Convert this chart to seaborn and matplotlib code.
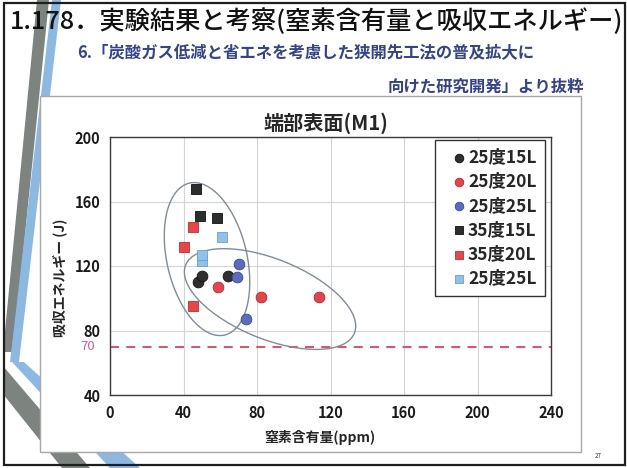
import matplotlib
matplotlib.use("Agg")
import matplotlib.pyplot as plt
import seaborn as sns
from matplotlib import transforms
from matplotlib.patches import Ellipse, Polygon, Rectangle
from matplotlib.font_manager import FontProperties

# ---- data -------------------------------------------------------------
series_labels = ["25度15L", "25度20L", "25度25L", "35度15L", "35度20L", "25度25L"]
nitrogen_ppm = [
    [48, 50, 64],      # 25度15L
    [59, 82, 114],     # 25度20L
    [69, 70, 74],      # 25度25L
    [47, 49, 58],      # 35度15L
    [40, 45, 45],      # 35度20L
    [50, 50, 61],      # 25度25L (squares)
]
absorbed_energy = [
    [110, 114, 114],
    [107, 101, 101],
    [113, 121, 87],
    [168, 151, 150],
    [132, 144, 95],
    [123, 127, 138],
]
threshold_energy = 70
x_ticks = [0, 40, 80, 120, 160, 200, 240]
y_ticks = [40, 80, 120, 160, 200]

# ---- styles -----------------------------------------------------------
markers = ["o", "o", "o", "s", "s", "s"]
colors = ["#2f2f2f", "#e8434a", "#5a6cc0", "#2b2f2b", "#ea4446", "#8cc2ec"]
edges = ["#111111", "#b02a30", "#3a4a90", "#111111", "#b83030", "#6aa0cc"]

sns.set_style("white")
CJK = ["Noto Sans CJK JP", "DejaVu Sans"]
LABEL_FONT = ["Noto Sans CJK JP", "DejaVu Sans"]
plt.rcParams["font.family"] = CJK

W, H = 627, 468
fig = plt.figure(figsize=(W / 100, H / 100), dpi=100)
fig.patch.set_facecolor("white")


def P(x, y):
    return (x / W, 1 - y / H)


# slide decoration: slanted grey/blue bands on the left
bands = [
    ([(37, 0), (49, 0), (13, 352), (3, 352)], "#7d837f"),
    ([(52, 0), (61, 0), (19, 362), (10, 362)], "#8bb9e2"),
    ([(3, 366), (3, 394), (62, 468), (90, 468)], "#7d837f"),
    ([(12, 362), (24, 362), (140, 468), (110, 468)], "#8bb9e2"),
]
for pts, col in bands:
    fig.patches.append(Polygon([P(*p) for p in pts], closed=True,
                               transform=fig.transFigure, facecolor=col,
                               edgecolor="none", zorder=0))

# chart frame
fx0, fy0, fx1, fy1 = 40, 96, 581, 452
fig.patches.append(Rectangle(P(fx0, fy1), (fx1 - fx0) / W, (fy1 - fy0) / H,
                             transform=fig.transFigure, facecolor="white",
                             edgecolor="#a8a8a8", lw=1.0, zorder=1))
# slide border
fig.patches.append(Rectangle(P(4, 465), 621 / W, 462 / H,
                             transform=fig.transFigure, facecolor="none",
                             edgecolor="#1e1e1e", lw=1.6, zorder=5))

# slide headings
fig.text(*P(10, 22), "1.178．実験結果と考察(窒素含有量と吸収エネルギー)",
         fontsize=18.2, fontweight="medium", color="#111111", ha="left", va="center", zorder=6)
fig.text(*P(77, 53), "6.「炭酸ガス低減と省エネを考慮した狭開先工法の普及拡大に",
         fontsize=11.8, fontweight="bold", color="#35428c", ha="left", va="center", zorder=6)
fig.text(*P(584, 87), "向けた研究開発」より抜粋",
         fontsize=11.8, fontweight="bold", color="#35428c", ha="right", va="center", zorder=6)
fig.text(*P(598, 456), "27", fontsize=4.5, color="#333333", ha="center", va="center", zorder=6)

# ---- axes -------------------------------------------------------------
ax_l, ax_r, ax_t, ax_b = 110, 551, 137, 395
ax = fig.add_axes([ax_l / W, 1 - ax_b / H, (ax_r - ax_l) / W, (ax_b - ax_t) / H], zorder=3)
ax.set_facecolor("white")

for xs, ys, lab, m, c, ec in zip(nitrogen_ppm, absorbed_energy, series_labels,
                                 markers, colors, edges):
    sns.scatterplot(x=xs, y=ys, ax=ax, marker=m, s=60, color=c,
                    edgecolor=ec, linewidth=0.6, label=lab, zorder=4)

ax.axhline(threshold_energy, color="#e2405a", lw=1.3, ls=(0, (5, 4)), zorder=2)
ax.text(-0.035, threshold_energy, str(threshold_energy), color="#c8609a", fontsize=9.5,
        ha="right", va="center",
        transform=transforms.blended_transform_factory(ax.transAxes, ax.transData))

# outlined groups
ell_style = dict(fill=False, edgecolor="#7f8c99", lw=1.0, zorder=3)
t1 = fig.dpi_scale_trans + transforms.ScaledTranslation(52.8, 124.3, ax.transData)
ax.add_patch(Ellipse((0, 0), width=0.80, height=1.56, angle=13, transform=t1, **ell_style))
t2 = fig.dpi_scale_trans + transforms.ScaledTranslation(87.1, 99.5, ax.transData)
ax.add_patch(Ellipse((0, 0), width=1.82, height=0.80, angle=-22, transform=t2, **ell_style))

ax.set_xlim(0, 240)
ax.set_ylim(40, 200)
ax.set_xticks(x_ticks)
ax.set_yticks(y_ticks)
ax.grid(True, color="#d4d4d4", lw=0.8)
for sp in ax.spines.values():
    sp.set_color("#3a3a3a")
    sp.set_linewidth(1.0)
ax.tick_params(axis="both", direction="in", length=3, color="#3a3a3a", pad=7)
tick_font = FontProperties(family=LABEL_FONT, weight="bold", size=10.5)
for lbl in ax.get_xticklabels() + ax.get_yticklabels():
    lbl.set_fontproperties(tick_font)
    lbl.set_color("#1a1a1a")

ax.set_xlabel("窒素含有量(ppm)", fontsize=10, fontweight="bold")
ax.xaxis.set_label_coords(0.475, -0.135)
ax.set_ylabel("吸収エネルギー (J)", fontsize=10, fontweight="bold")
ax.yaxis.set_label_coords(-0.098, 0.453)
ax.set_title("端部表面(M1)", fontsize=14.5, fontweight="bold", pad=5, x=0.49)

leg = ax.legend(loc="upper right", bbox_to_anchor=(0.987, 0.99), borderaxespad=0,
                frameon=True, fancybox=False, framealpha=1, edgecolor="#333333",
                handletextpad=-0.3, handlelength=1.7, borderpad=0.5,
                labelspacing=0.36, markerscale=0.8,
                prop=FontProperties(family=LABEL_FONT, weight="bold", size=12.5))
leg.get_frame().set_linewidth(1.0)

fig.savefig("out.png", dpi=100, facecolor=fig.get_facecolor())
